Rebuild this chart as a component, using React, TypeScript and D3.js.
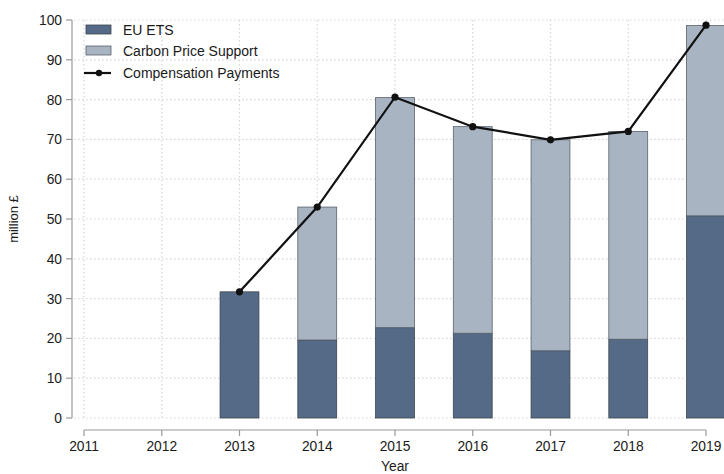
import React from "react";
import * as d3 from "d3";

const years = [2011, 2012, 2013, 2014, 2015, 2016, 2017, 2018, 2019];
const barYears = [2013, 2014, 2015, 2016, 2017, 2018, 2019];
const euEts = [31.7, 19.6, 22.7, 21.3, 16.9, 19.8, 50.8];
const carbonPriceSupport = [0, 33.4, 57.8, 51.9, 53.0, 52.2, 47.8];
const compensation = [31.7, 53.0, 80.6, 73.2, 69.9, 72.0, 98.7];
const yTicks = [0, 10, 20, 30, 40, 50, 60, 70, 80, 90, 100];

const W = 724;
const H = 474;
const FONT = "'Liberation Sans', Arial, sans-serif";
const DARK = "#546a86";
const LIGHT = "#a9b4c3";
const GRID = "#d6d6d6";

export default function App() {
  const x = d3.scaleLinear().domain([2011, 2019]).range([84, 706]);
  const y = d3.scaleLinear().domain([0, 100]).range([418, 20]);
  const step = x(2012) - x(2011);
  const bw = step * 0.5;
  const line = d3
    .line<number>()
    .x((_, i) => x(barYears[i]))
    .y((d) => y(d));

  return (
    <svg
      width={W}
      height={H}
      style={{ position: "absolute", left: 0, top: 0, background: "#fff" }}
      fontFamily={FONT}
    >
      <rect width={W} height={H} fill="#fff" />
      {yTicks.map((t) => (
        <line
          key={"gy" + t}
          x1={74}
          x2={W}
          y1={y(t)}
          y2={y(t)}
          stroke={GRID}
          strokeWidth={1.2}
          strokeDasharray="1.5 2.5"
        />
      ))}
      {years.map((yr) => (
        <line
          key={"gx" + yr}
          x1={x(yr)}
          x2={x(yr)}
          y1={y(100)}
          y2={y(0)}
          stroke={GRID}
          strokeWidth={1.2}
          strokeDasharray="1.5 2.5"
        />
      ))}
      {barYears.map((yr, i) => (
        <g key={"b" + yr}>
          <rect
            x={x(yr) - bw / 2}
            y={y(euEts[i])}
            width={bw}
            height={y(0) - y(euEts[i])}
            fill={DARK}
            stroke="#3d4650"
            strokeWidth={0.8}
          />
          {carbonPriceSupport[i] > 0 && (
            <rect
              x={x(yr) - bw / 2}
              y={y(euEts[i] + carbonPriceSupport[i])}
              width={bw}
              height={y(euEts[i]) - y(euEts[i] + carbonPriceSupport[i])}
              fill={LIGHT}
              stroke="#5a626c"
              strokeWidth={0.8}
            />
          )}
        </g>
      ))}
      <path d={line(compensation) || ""} fill="none" stroke="#111" strokeWidth={2.2} />
      {compensation.map((v, i) => (
        <circle key={"c" + i} cx={x(barYears[i])} cy={y(v)} r={3.6} fill="#111" />
      ))}
      <line x1={72} x2={72} y1={y(0)} y2={y(100)} stroke="#999" strokeWidth={1.2} />
      {yTicks.map((t) => (
        <g key={"yt" + t}>
          <line x1={66} x2={72} y1={y(t)} y2={y(t)} stroke="#999" strokeWidth={1.2} />
          <text x={62} y={y(t)} dy="0.36em" textAnchor="end" fontSize={13.8} fill="#1a1a1a">
            {t}
          </text>
        </g>
      ))}
      <text
        transform={`translate(18,${y(50)}) rotate(-90)`}
        textAnchor="middle"
        fontSize={13}
        fill="#1a1a1a"
      >
        million £
      </text>
      <line x1={x(2011)} x2={x(2019)} y1={430} y2={430} stroke="#999" strokeWidth={1.2} />
      {years.map((yr) => (
        <g key={"xt" + yr}>
          <line x1={x(yr)} x2={x(yr)} y1={430} y2={436} stroke="#999" strokeWidth={1.2} />
          <text x={x(yr)} y={451} textAnchor="middle" fontSize={13.8} fill="#1a1a1a">
            {yr}
          </text>
        </g>
      ))}
      <text x={x(2015)} y={471} textAnchor="middle" fontSize={13.8} fill="#1a1a1a">
        Year
      </text>
      <rect x={86} y={25} width={25} height={9} fill={DARK} stroke="#3d4650" strokeWidth={0.8} />
      <text x={123} y={35} fontSize={14} fill="#1a1a1a">EU ETS</text>
      <rect x={86} y={46} width={25} height={9} fill={LIGHT} stroke="#5a626c" strokeWidth={0.8} />
      <text x={123} y={56} fontSize={14} fill="#1a1a1a">Carbon Price Support</text>
      <line x1={84} x2={111} y1={73} y2={73} stroke="#111" strokeWidth={2.2} />
      <circle cx={99} cy={73} r={3.2} fill="#111" />
      <text x={123} y={78} fontSize={14} fill="#1a1a1a">Compensation Payments</text>
    </svg>
  );
}
